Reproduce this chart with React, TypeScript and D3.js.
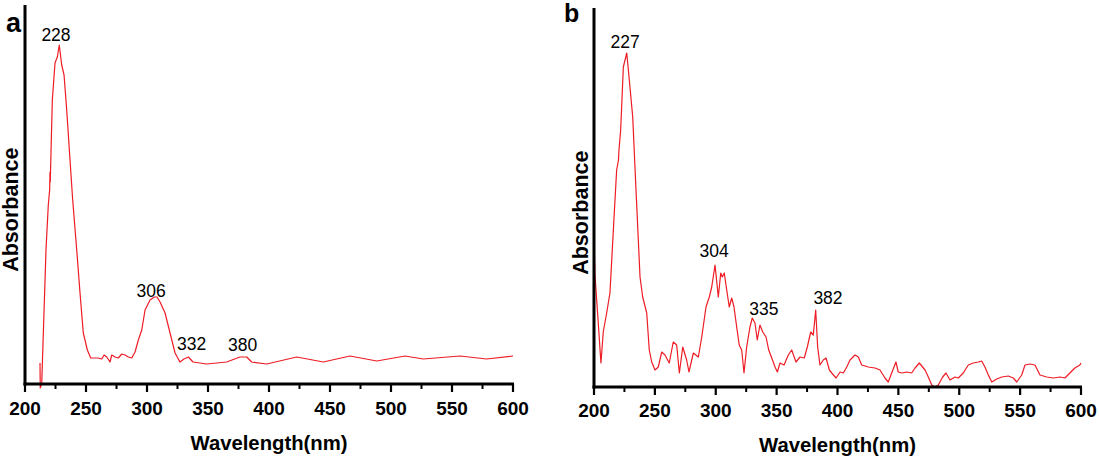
import React from "react";
import * as d3 from "d3";

// ---------- Data ----------
const xTicksMajor = [200, 250, 300, 350, 400, 450, 500, 550, 600];
const xTicksMinor = [225, 275, 325, 375, 425, 475, 525, 575];

const aWavelength = [
  212.3, 212.5, 213.7, 217.2, 219.1, 220.2, 220.5, 220.7, 222.4, 224.6, 226.5, 228.1, 230.1, 232.0,
  234.2, 236.9, 239.1, 242.4, 245.1, 247.8, 251.1, 253.9, 256.0, 260.1, 262.9, 264.8, 267.0, 269.7,
  271.1, 273.8, 276.5, 279.3, 282.0, 284.7, 287.5, 290.2, 292.9, 295.7, 298.4, 302.5, 306.0, 308.2,
  310.7, 314.8, 318.9, 323.0, 327.0, 330.3, 333.9, 337.7, 348.9, 365.3, 376.2, 381.7, 385.8, 398.1,
  422.7, 444.5, 466.4, 488.3, 511.5, 526.5, 556.6, 578.4, 600.0,
];
const aAbsorbance = [
  0.21, -0.04, 0.0, 1.34, 1.79, 1.94, 2.12, 2.02, 2.84, 3.21, 3.27, 3.39, 3.19, 3.09,
  2.74, 2.24, 1.84, 1.34, 0.91, 0.51, 0.34, 0.26, 0.26, 0.26, 0.25, 0.29, 0.27, 0.22,
  0.29, 0.27, 0.26, 0.3, 0.29, 0.27, 0.26, 0.32, 0.44, 0.54, 0.74, 0.84, 0.87, 0.87,
  0.82, 0.71, 0.51, 0.31, 0.22, 0.25, 0.27, 0.22, 0.2, 0.22, 0.27, 0.27, 0.22, 0.2,
  0.27, 0.22, 0.28, 0.23, 0.28, 0.25, 0.28, 0.25, 0.28,
];

const bWavelength = [
  200.0, 200.8, 203.5, 205.7, 207.6, 210.4, 213.1, 215.9, 218.6, 220.1, 220.5, 221.9, 224.1, 226.9,
  229.0, 231.8, 234.5, 237.8, 240.0, 243.3, 245.4, 247.4, 250.1, 252.8, 255.6, 258.3, 261.8, 265.1,
  267.9, 270.1, 272.9, 276.1, 278.0, 281.6, 285.7, 288.5, 292.0, 294.7, 296.7, 299.4, 302.1, 304.1,
  305.4, 307.0, 309.0, 311.1, 313.1, 315.0, 317.2, 319.3, 321.3, 323.2, 325.4, 328.1, 330.0, 332.2,
  334.1, 336.3, 338.6, 341.3, 343.5, 346.0, 348.7, 350.6, 352.8, 356.1, 359.6, 362.4, 365.9, 369.2,
  372.7, 375.2, 378.0, 380.1, 382.1, 383.7, 385.6, 388.3, 390.6, 393.3, 395.3, 398.8, 402.1, 404.8,
  407.6, 410.3, 414.4, 417.1, 419.9, 425.3, 430.8, 434.9, 439.0, 441.7, 444.5, 448.0, 449.9, 452.7,
  456.8, 460.9, 463.7, 467.2, 471.9, 474.6, 477.4, 480.1, 482.8, 486.4, 489.1, 492.4, 496.5, 499.2,
  503.3, 507.4, 511.5, 515.6, 518.4, 521.1, 523.9, 526.7, 530.8, 534.9, 540.3, 544.4, 547.2, 551.3,
  554.0, 558.1, 562.2, 566.3, 571.8, 577.3, 582.7, 586.8, 590.9, 595.0, 599.1, 600.0,
];
const bAbsorbance = [
  1.5, 1.12, 0.64, 0.24, 0.55, 0.74, 0.94, 1.57, 2.17, 2.27, 2.37, 2.57, 3.2, 3.34,
  3.07, 2.7, 1.97, 1.1, 0.9, 0.74, 0.37, 0.25, 0.17, 0.2, 0.35, 0.32, 0.24, 0.45,
  0.42, 0.14, 0.4, 0.27, 0.15, 0.34, 0.3, 0.5, 0.8, 0.9, 1.0, 1.22, 0.9, 1.14,
  1.1, 1.14, 0.97, 0.8, 0.89, 0.8, 0.6, 0.42, 0.37, 0.14, 0.4, 0.6, 0.69, 0.64,
  0.47, 0.62, 0.55, 0.5, 0.37, 0.29, 0.2, 0.15, 0.24, 0.22, 0.32, 0.37, 0.25, 0.3,
  0.29, 0.4, 0.55, 0.52, 0.77, 0.4, 0.22, 0.27, 0.29, 0.17, 0.14, 0.09, 0.15, 0.14,
  0.2, 0.27, 0.32, 0.3, 0.22, 0.2, 0.19, 0.17, 0.09, 0.05, 0.14, 0.25, 0.15, 0.14,
  0.15, 0.14, 0.19, 0.24, 0.17, 0.1, 0.02, 0.0, 0.02, 0.1, 0.14, 0.07, 0.1, 0.09,
  0.14, 0.22, 0.24, 0.25, 0.26, 0.2, 0.12, 0.05, 0.08, 0.1, 0.11, 0.09, 0.05, 0.12,
  0.22, 0.23, 0.22, 0.12, 0.1, 0.09, 0.1, 0.09, 0.14, 0.19, 0.22, 0.24,
];

// peak annotations: label text, label centre wavelength, label baseline absorbance
const aPeakLabels = ["228", "306", "332", "380"];
const aPeakNm = [225.4, 303.3, 336.6, 378.3];
const aPeakAbs = [3.43, 0.87, 0.34, 0.33];

const bPeakLabels = ["227", "304", "335", "382"];
const bPeakNm = [225.5, 298.6, 339.6, 392.2];
const bPeakAbs = [3.39, 1.3, 0.72, 0.83];

const FONT = "'Liberation Sans', Arial, Helvetica, sans-serif";

type PanelProps = {
  letter: string;
  xs: number[];
  ys: number[];
  peakLabels: string[];
  peakNm: number[];
  peakAbs: number[];
  left: number;
  right: number;
  top: number;
  bottom: number;
  letterX: number;
  letterY: number;
  letterSize: number;
  yTitleX: number;
  tickBaseline: number;
  titleBaseline: number;
};

function Panel(p: PanelProps) {
  const x = d3.scaleLinear().domain([200, 600]).range([p.left, p.right]);
  const y = d3.scaleLinear().domain([0, 3.79]).range([p.bottom, p.top]);
  const pts: [number, number][] = p.xs.map((v, i) => [v, p.ys[i]]);
  const line = d3
    .line<[number, number]>()
    .x((d) => x(d[0]))
    .y((d) => y(d[1]))
    .curve(d3.curveLinear);
  const midX = (p.left + p.right) / 2;
  const midY = (p.top + p.bottom) / 2 + 14;
  return (
    <g>
      <path d={line(pts) || ""} fill="none" stroke="#ee1c25" strokeWidth={1.2} strokeLinejoin="round" />
      {/* axes */}
      <line x1={p.left} x2={p.left} y1={p.top} y2={p.bottom + 1.5} stroke="#000" strokeWidth={3} />
      <line x1={p.left - 1.5} x2={p.right + 1} y1={p.bottom} y2={p.bottom} stroke="#000" strokeWidth={3} />
      {xTicksMajor.map((t) => (
        <line key={"M" + t} x1={x(t)} x2={x(t)} y1={p.bottom} y2={p.bottom + 8} stroke="#000" strokeWidth={2.2} />
      ))}
      {xTicksMinor.map((t) => (
        <line key={"m" + t} x1={x(t)} x2={x(t)} y1={p.bottom} y2={p.bottom + 5} stroke="#000" strokeWidth={2} />
      ))}
      {xTicksMajor.map((t) => (
        <text
          key={"L" + t}
          x={x(t)}
          y={p.tickBaseline}
          textAnchor="middle"
          fontFamily={FONT}
          fontWeight="bold"
          fontSize={19}
          fill="#000"
        >
          {t}
        </text>
      ))}
      <text
        x={midX}
        y={p.titleBaseline}
        textAnchor="middle"
        fontFamily={FONT}
        fontWeight="bold"
        fontSize={20.3}
        fill="#000"
      >
        Wavelength(nm)
      </text>
      <text
        transform={`translate(${p.yTitleX},${p.top + (p.bottom - p.top) * 0.54}) rotate(-90)`}
        textAnchor="middle"
        fontFamily={FONT}
        fontWeight="bold"
        fontSize={21.5}
        fill="#000"
      >
        Absorbance
      </text>
      <text x={p.letterX} y={p.letterY} fontFamily={FONT} fontWeight="bold" fontSize={p.letterSize} fill="#000">
        {p.letter}
      </text>
      {p.peakLabels.map((s, i) => (
        <text
          key={"P" + s}
          x={x(p.peakNm[i])}
          y={y(p.peakAbs[i])}
          textAnchor="middle"
          fontFamily={FONT}
          fontSize={17.5}
          fill="#000"
        >
          {s}
        </text>
      ))}
    </g>
  );
}

export default function App() {
  return (
    <svg
      width={1099}
      height={461}
      viewBox="0 0 1099 461"
      style={{ position: "absolute", left: 0, top: 0, background: "#fff" }}
    >
      <rect x={0} y={0} width={1099} height={461} fill="#fff" />
      <Panel
        letter="a"
        xs={aWavelength}
        ys={aAbsorbance}
        peakLabels={aPeakLabels}
        peakNm={aPeakNm}
        peakAbs={aPeakAbs}
        left={25}
        right={513}
        top={5}
        bottom={384}
        letterX={6}
        letterY={32}
        letterSize={27}
        yTitleX={18}
        tickBaseline={415}
        titleBaseline={450}
      />
      <Panel
        letter="b"
        xs={bWavelength}
        ys={bBAbs()}
        peakLabels={bPeakLabels}
        peakNm={bPeakNm}
        peakAbs={bPeakAbs}
        left={594}
        right={1081}
        top={8}
        bottom={387}
        letterX={564}
        letterY={22}
        letterSize={25}
        yTitleX={588}
        tickBaseline={417}
        titleBaseline={452}
      />
    </svg>
  );
}

function bBAbs() {
  return bAbsorbance;
}
